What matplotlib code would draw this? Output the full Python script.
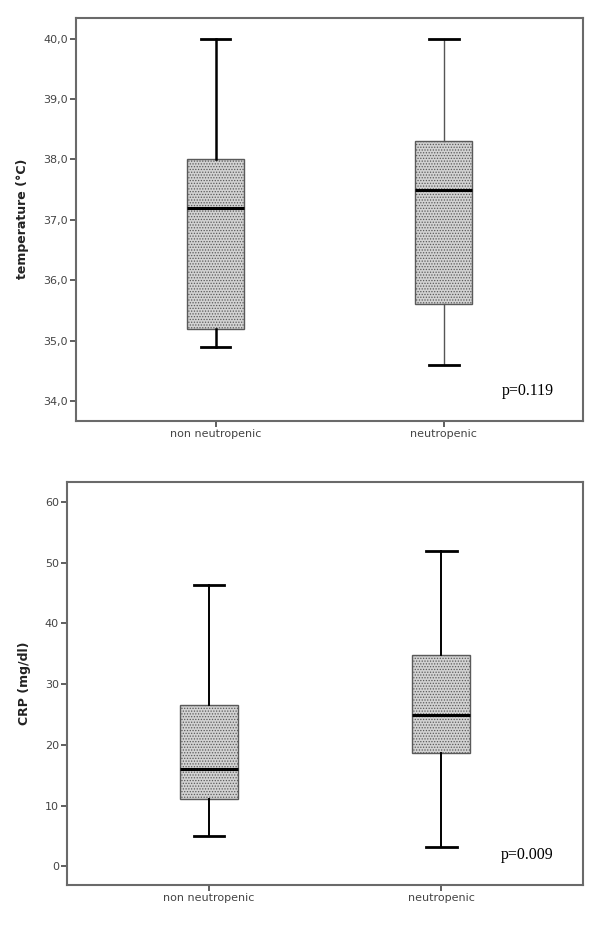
import matplotlib
matplotlib.use("Agg")
import matplotlib.pyplot as plt

# groups on the x axis
groups = ["non neutropenic", "neutropenic"]

# temperature (°C) box statistics
temp_whislo = [34.9, 34.6]
temp_q1 = [35.2, 35.6]
temp_med = [37.2, 37.5]
temp_q3 = [38.0, 38.3]
temp_whishi = [40.0, 40.0]
temp_ticks = [34.0, 35.0, 36.0, 37.0, 38.0, 39.0, 40.0]

# CRP (mg/dl) box statistics
crp_whislo = [4.9, 3.1]
crp_q1 = [11.0, 18.6]
crp_med = [16.0, 24.9]
crp_q3 = [26.6, 34.8]
crp_whishi = [46.4, 51.9]
crp_ticks = [0, 10, 20, 30, 40, 50, 60]

p_values = ["p=0.119", "p=0.009"]


def make_stats(lo, q1, med, q3, hi):
    return [dict(whislo=lo[i], q1=q1[i], med=med[i], q3=q3[i], whishi=hi[i],
                 fliers=[], label=groups[i]) for i in range(len(groups))]


def draw_panel(ax, stats, ylim, ticks, tickfmt, ylabel, ptext, whisker_lw):
    res = ax.bxp(stats, positions=range(len(groups)), widths=0.25,
                 patch_artist=True, showfliers=False,
                 boxprops=dict(facecolor="#d2d2d2", edgecolor="#5a5a5a",
                               hatch="......", linewidth=1.0),
                 medianprops=dict(color="black", linewidth=2.2),
                 capwidths=0.13)
    for i in range(len(groups)):
        lw, col = whisker_lw[i]
        for art in res["whiskers"][2 * i:2 * i + 2]:
            art.set_linewidth(lw)
            art.set_color(col)
        for art in res["caps"][2 * i:2 * i + 2]:
            art.set_linewidth(2.0)
            art.set_color("black")
    ax.set_xlim(-0.61, 1.61)
    ax.set_ylim(*ylim)
    ax.set_yticks(ticks)
    ax.set_yticklabels([tickfmt(t) for t in ticks])
    ax.set_xticks(range(len(groups)))
    ax.set_xticklabels(groups)
    ax.tick_params(axis="both", direction="out", length=4, width=1.2,
                   color="#444444", labelsize=8, labelcolor="#444444", pad=2)
    for s in ax.spines.values():
        s.set_color("#6a6a6a")
        s.set_linewidth(1.5)
    ax.set_ylabel(ylabel, fontsize=9, fontweight="bold", color="#222222", labelpad=10)
    ax.text(0.943, 0.075, ptext, transform=ax.transAxes, ha="right", va="center",
            fontsize=11.5, family="Liberation Serif", color="black")


plt.rcParams["hatch.linewidth"] = 0.6
fig = plt.figure(figsize=(6, 9.25), dpi=100)

ax1 = fig.add_axes([0.127, 0.545, 0.845, 0.436])
draw_panel(ax1, make_stats(temp_whislo, temp_q1, temp_med, temp_q3, temp_whishi),
           (33.67, 40.35), temp_ticks, lambda t: f"{t:.1f}".replace(".", ","),
           "temperature (°C)", p_values[0],
           [(1.8, "black"), (1.0, "#555555")])

ax2 = fig.add_axes([0.112, 0.0432, 0.86, 0.4357])
draw_panel(ax2, make_stats(crp_whislo, crp_q1, crp_med, crp_q3, crp_whishi),
           (-3.1, 63.3), crp_ticks, lambda t: f"{t:d}",
           "CRP (mg/dl)", p_values[1],
           [(1.4, "black"), (1.4, "black")])

fig.savefig("out.png", dpi=100, facecolor="white")
